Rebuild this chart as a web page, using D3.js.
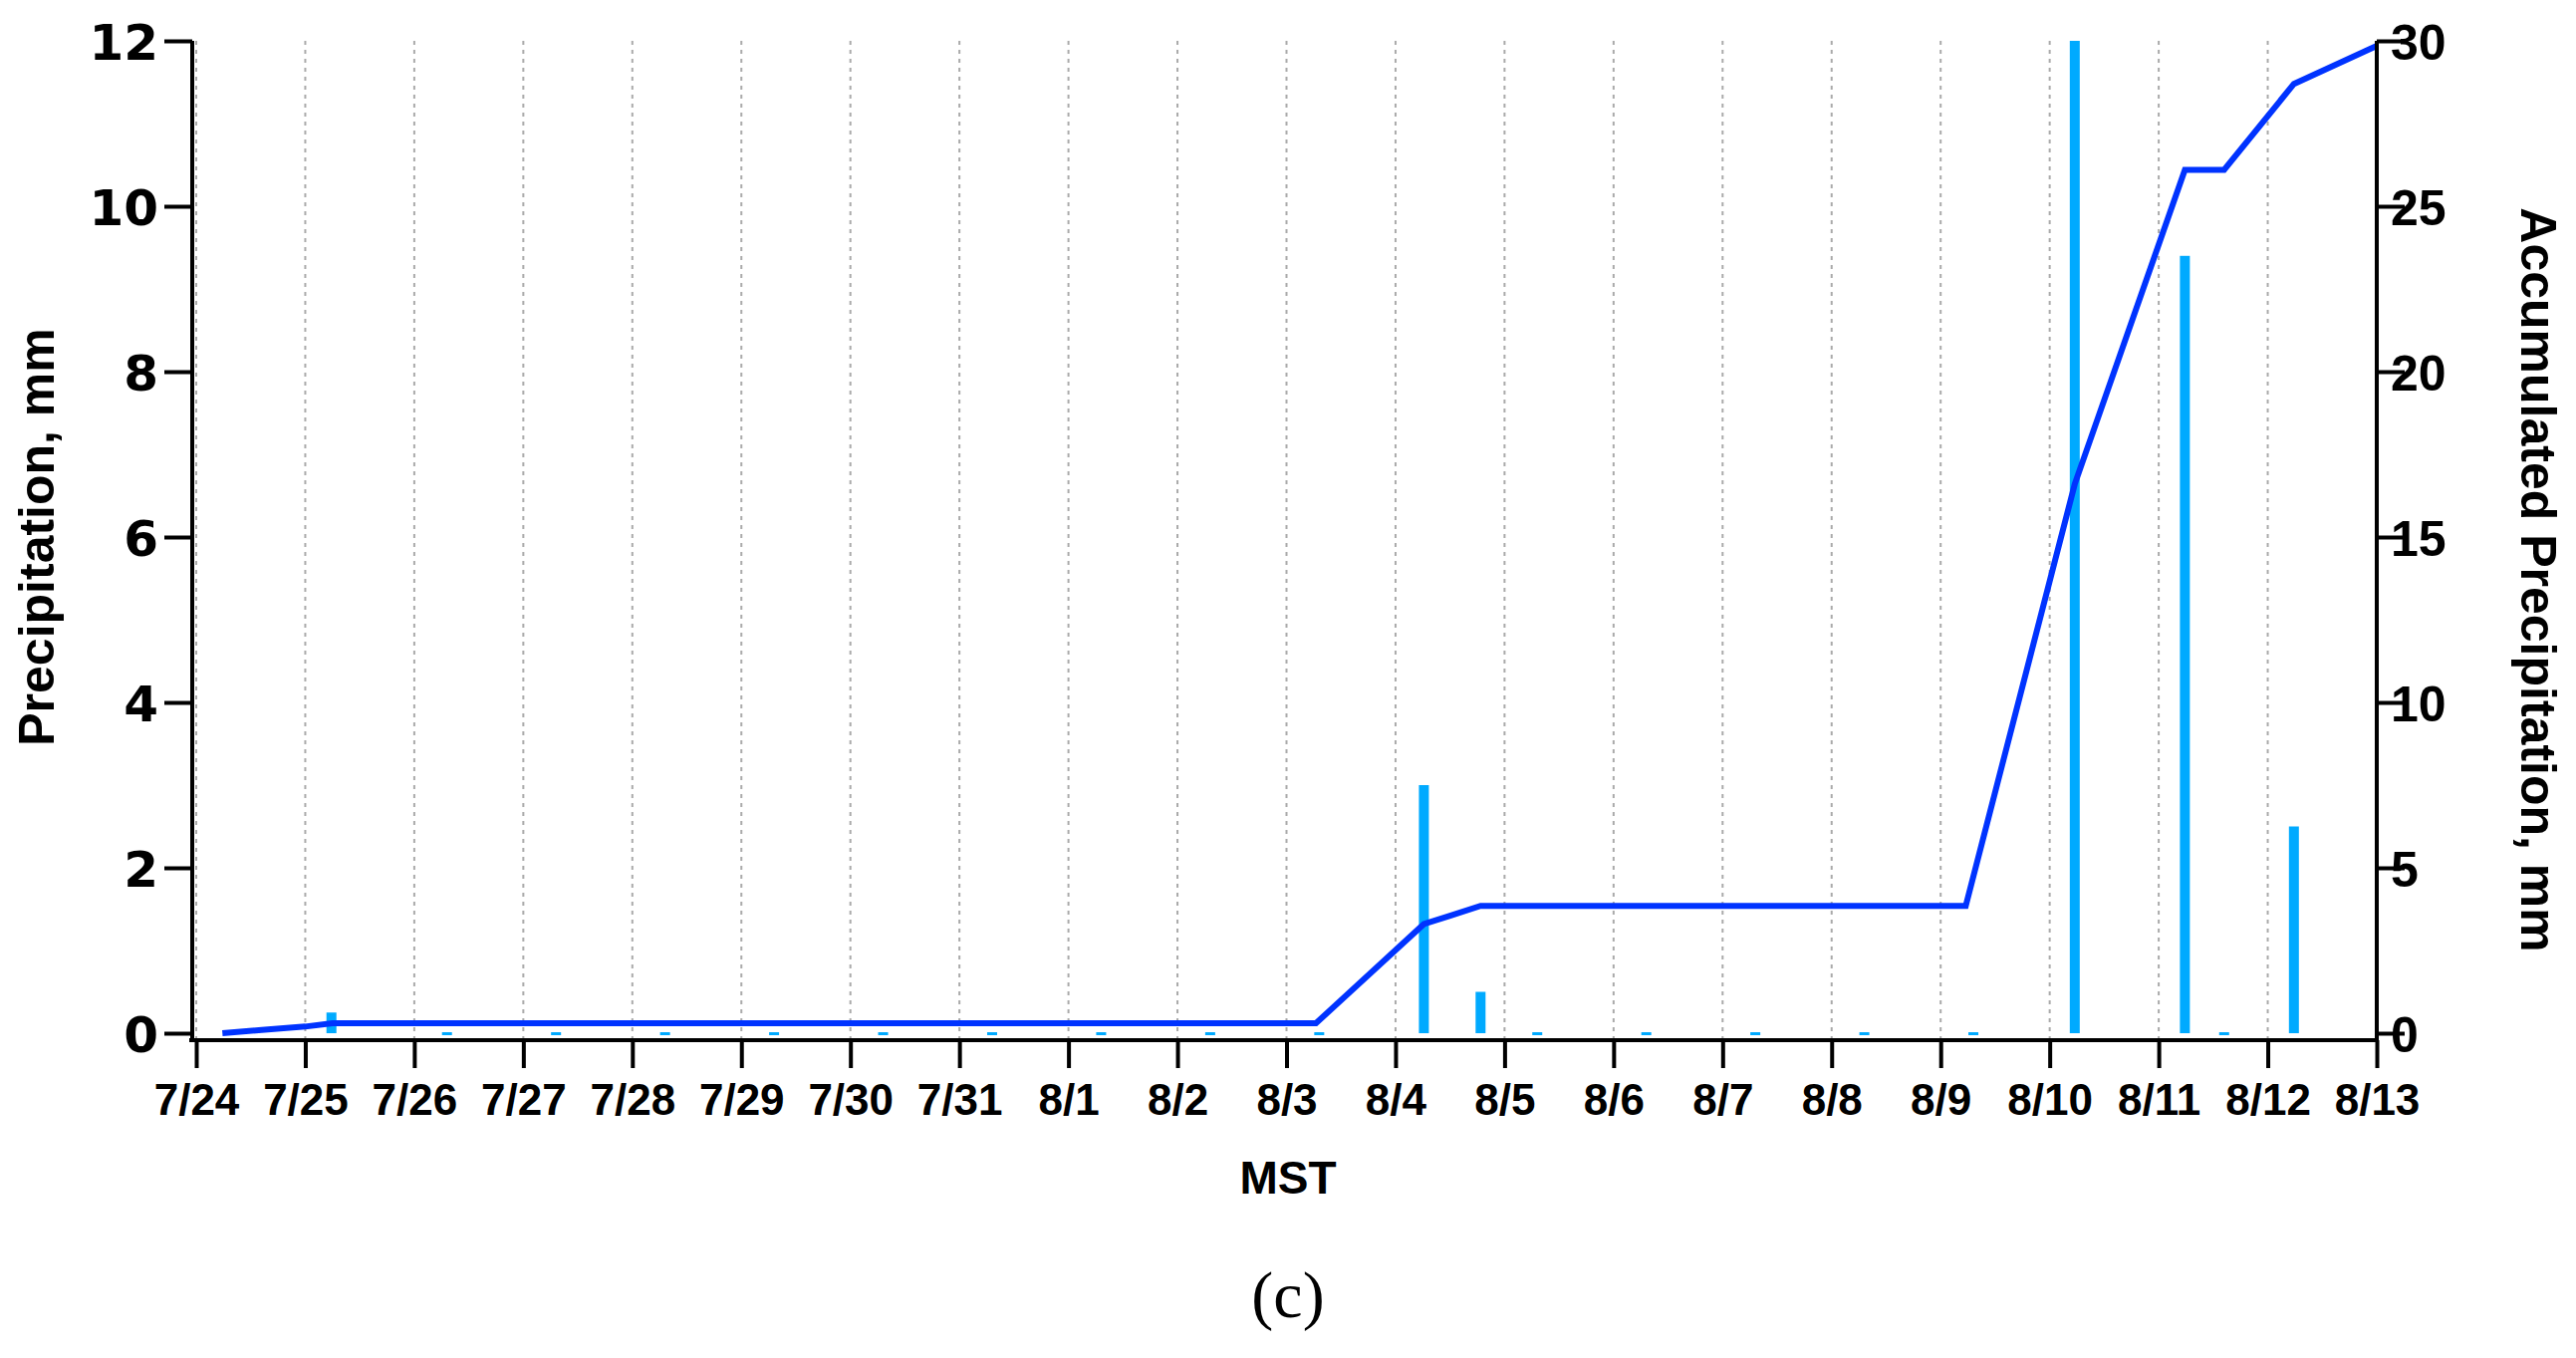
<!DOCTYPE html>
<html><head><meta charset="utf-8">
<script src="https://cdn.jsdelivr.net/npm/d3@7"></script>
<style>
body{margin:0;background:#fff}
text{font-family:"Liberation Sans",Arial,sans-serif;font-weight:bold;fill:#000}
</style></head>
<body><svg id="chart" width="2586" height="1363"></svg>
<script>
// day offsets from 7/24 00:00
const dayLabels = ["7/24","7/25","7/26","7/27","7/28","7/29","7/30","7/31","8/1","8/2","8/3","8/4","8/5","8/6","8/7","8/8","8/9","8/10","8/11","8/12","8/13"];
const barDays = [1.24, 11.26, 11.78, 17.23, 18.24, 19.24];
const barValues = [0.25, 3.0, 0.5, 12, 9.4, 2.5];
const traceDays = [0.3, 2.3, 3.3, 4.3, 5.3, 6.3, 7.3, 8.3, 9.3, 10.3, 12.3, 13.3, 14.3, 15.3, 16.3, 18.6];
const cumDays = [0.24, 0.6, 1.0, 1.25, 10.27, 11.26, 11.5, 11.78, 16.23, 17.23, 18.24, 18.6, 19.24, 20.0];
const cumValues = [0, 0.1, 0.2, 0.3, 0.3, 3.3, 3.55, 3.85, 3.85, 16.6, 26.1, 26.1, 28.7, 29.85];
const leftTicks = [0, 2, 4, 6, 8, 10, 12];
const rightTicks = [0, 5, 10, 15, 20, 25, 30];

const svg = d3.select("#chart");
const x = d3.scaleLinear().domain([0, 20]).range([197, 2386]);
const yL = d3.scaleLinear().domain([0, 12]).range([1037, 41]);
const yR = d3.scaleLinear().domain([0, 30]).range([1037, 41]);

// grid
svg.append("g").selectAll("line").data(d3.range(0, 20)).join("line")
  .attr("x1", d => x(d)).attr("x2", d => x(d)).attr("y1", 41).attr("y2", 1044)
  .attr("stroke", "#aaa").attr("stroke-width", 2).attr("stroke-dasharray", "4,5");

// bars
svg.append("g").selectAll("rect").data(barDays).join("rect")
  .attr("x", (d, i) => x(d) - 5).attr("width", 10)
  .attr("y", (d, i) => yL(barValues[i])).attr("height", (d, i) => yL(0) - yL(barValues[i]))
  .attr("fill", "#00aaff");
svg.append("g").selectAll("rect").data(traceDays).join("rect")
  .attr("x", d => x(d) - 5).attr("width", 10).attr("y", yL(0) - 1).attr("height", 3)
  .attr("fill", "#00aaff");

// cumulative line
svg.append("path").datum(cumDays.map((d, i) => [d, cumValues[i]]))
  .attr("d", d3.line().x(d => x(d[0])).y(d => yR(d[1])))
  .attr("fill", "none").attr("stroke", "#0033ff").attr("stroke-width", 6);

// axes
const gx = svg.append("g").attr("transform", "translate(0,1044)")
  .call(d3.axisBottom(x).tickValues(d3.range(0, 21)).tickFormat(d => dayLabels[d]).tickSize(28).tickSizeOuter(0));
gx.select(".domain").attr("d", `M190,0H${x(20)}`);
const gl = svg.append("g").attr("transform", "translate(193,0)")
  .call(d3.axisLeft(yL).tickValues(leftTicks).tickSize(28).tickSizeOuter(0));
gl.select(".domain").attr("d", "M0,41V1044");
const gr = svg.append("g").attr("transform", `translate(${x(20)},0)`)
  .call(d3.axisRight(yR).tickValues(rightTicks).tickSize(28).tickSizeOuter(0));
gr.select(".domain").attr("d", "M0,41V1044");
[gx, gl, gr].forEach(g => {
  g.selectAll("path,line").attr("stroke", "#000").attr("stroke-width", 4);
  g.selectAll("text").style("font-family", '"Liberation Sans Narrow","Liberation Sans",sans-serif');
});
gl.selectAll("text").style("font-size", "50px").style("font-family", '"DejaVu Sans",sans-serif').attr("x", -34).attr("dy", "0.36em");
gr.selectAll("text").attr("x", 14).style("font-size", "50px").attr("dy", "0.36em");
gx.selectAll("text").attr("y", 44).style("font-size", "44px");

svg.append("text").attr("x", 1293).attr("y", 1198).attr("text-anchor", "middle").style("font-size", "46px").text("MST");
svg.append("text").attr("transform", "translate(54,539) rotate(-90)").attr("text-anchor", "middle").style("font-size", "50px").text("Precipitation, mm");
svg.append("text").attr("transform", "translate(2531,582) rotate(90)").attr("text-anchor", "middle").style("font-size", "50px").text("Accumulated Precipitation, mm");
svg.append("text").attr("x", 1293).attr("y", 1322).attr("text-anchor", "middle")
  .style("font-family", '"Liberation Serif",serif').style("font-weight", "normal").style("font-size", "66px").text("(c)");
</script></body></html>
